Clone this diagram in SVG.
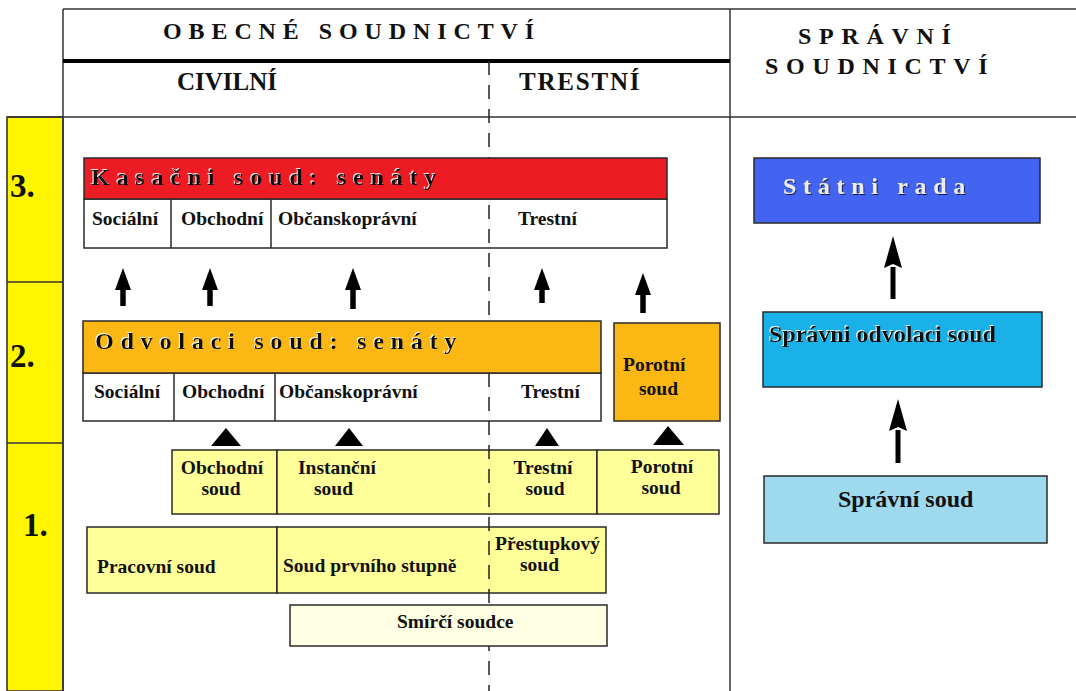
<svg xmlns="http://www.w3.org/2000/svg" width="1076" height="691" viewBox="0 0 1076 691">
<defs>
<style>
.t{font-family:"Liberation Serif","Times New Roman",serif;font-weight:bold;fill:#111}
.lbl{font-size:19.5px}
.hdr{font-size:24px;letter-spacing:6.9px}
.sub{font-size:25px}
.num{font-size:33px}
.big{font-size:24px;letter-spacing:6.8px}
.side{font-size:24px}
.box{stroke:#2a2a2a;stroke-width:1.5}
.frame{stroke:#333;stroke-width:1.5;fill:none}
.arrow{stroke:#000;stroke-width:5.5}
.arrowR{stroke:#000;stroke-width:5}
</style>
<marker id="ah" viewBox="0 0 22 16" refX="1" refY="8" markerWidth="22" markerHeight="16" markerUnits="userSpaceOnUse" orient="auto">
<path d="M0,0 L22,8 L0,16 Z" fill="#000"/>
</marker>
<marker id="ahR" viewBox="0 0 32 18" refX="1" refY="9" markerWidth="32" markerHeight="18" markerUnits="userSpaceOnUse" orient="auto">
<path d="M0,0 L32,9 L0,18 L4,9 Z" fill="#000"/>
</marker>
<filter id="lightShadow" x="-5%" y="-20%" width="110%" height="140%">
<feDropShadow dx="-1" dy="-1" stdDeviation="0.3" flood-color="#ffffff" flood-opacity="0.9"/>
</filter>
<filter id="darkShadow" x="-5%" y="-20%" width="110%" height="140%">
<feDropShadow dx="1" dy="1" stdDeviation="0.4" flood-color="#101040" flood-opacity="0.9"/>
</filter>
</defs>
<rect width="1076" height="691" fill="#ffffff"/>

<g id="frame">
<rect x="7" y="117" width="56" height="574" fill="#fff500" class="box"/>
<line x1="7" y1="282" x2="63" y2="282" class="frame"/>
<line x1="7" y1="443" x2="63" y2="443" class="frame"/>
<line x1="63" y1="9" x2="1076" y2="9" class="frame"/>
<line x1="63" y1="9" x2="63" y2="691" class="frame"/>
<line x1="730" y1="9" x2="730" y2="691" class="frame"/>
<line x1="7" y1="117" x2="1076" y2="117" class="frame"/>
<line x1="63" y1="61" x2="730" y2="61" stroke="#000" stroke-width="4"/>
<text x="163" y="39" class="t hdr">OBECNÉ SOUDNICTVÍ</text>
<text x="798" y="44" class="t hdr" style="letter-spacing:7.7px">SPRÁVNÍ</text>
<text x="765" y="74" class="t hdr" style="letter-spacing:7.7px">SOUDNICTVÍ</text>
<text x="177" y="90" class="t sub">CIVILNÍ</text>
<text x="519" y="90" class="t sub" style="letter-spacing:1.8px">TRESTNÍ</text>
<text x="10" y="197" class="t num">3.</text>
<text x="10" y="367" class="t num">2.</text>
<text x="23" y="536" class="t num">1.</text>
</g>

<g id="level3-senates">
<rect x="84" y="199" width="583" height="49" fill="#ffffff" class="box"/>
<line x1="171" y1="199" x2="171" y2="248" class="box"/>
<line x1="271" y1="199" x2="271" y2="248" class="box"/>
<text x="92" y="225" class="t lbl">Sociální</text>
<text x="181" y="225" class="t lbl">Obchodní</text>
<text x="278" y="225" class="t lbl">Občanskoprávní</text>
<text x="518" y="225" class="t lbl">Trestní</text>
</g>

<g id="level2-senates">
<rect x="83" y="373" width="518" height="48" fill="#ffffff" class="box"/>
<line x1="174" y1="373" x2="174" y2="421" class="box"/>
<line x1="275" y1="373" x2="275" y2="421" class="box"/>
<text x="94" y="398" class="t lbl">Sociální</text>
<text x="182" y="398" class="t lbl">Obchodní</text>
<text x="279" y="398" class="t lbl">Občanskoprávní</text>
<text x="521" y="398" class="t lbl">Trestní</text>
</g>

<g id="obchodni-soud">
<rect x="172" y="450" width="105" height="64" fill="#ffff99" class="box"/>
<text x="222" y="474" class="t lbl" text-anchor="middle">Obchodní</text>
<text x="221" y="495" class="t lbl" text-anchor="middle">soud</text>
</g>
<g id="instancni-soud">
<rect x="277" y="450" width="212" height="64" fill="#ffff99"/>
<path d="M489,450 H277 V514 H489" class="box" fill="none"/>
<text x="298" y="474" class="t lbl">Instanční</text>
<text x="314" y="495" class="t lbl">soud</text>
</g>
<g id="trestni-soud">
<rect x="489" y="450" width="108" height="64" fill="#ffff99"/>
<path d="M489,450 H597 V514 H489" class="box" fill="none"/>
<text x="543" y="474" class="t lbl" text-anchor="middle">Trestní</text>
<text x="545" y="495" class="t lbl" text-anchor="middle">soud</text>
</g>
<g id="porotni-soud-1">
<rect x="597" y="450" width="122" height="64" fill="#ffff99" class="box"/>
<text x="662" y="473" class="t lbl" text-anchor="middle">Porotní</text>
<text x="661" y="494" class="t lbl" text-anchor="middle">soud</text>
</g>
<g id="pracovni-soud">
<rect x="87" y="527" width="190" height="66" fill="#ffff99" class="box"/>
<text x="97" y="573" class="t lbl">Pracovní soud</text>
</g>
<g id="soud-prvniho-stupne">
<rect x="277" y="527" width="212" height="66" fill="#ffff99"/>
<path d="M489,527 H277 V593 H489" class="box" fill="none"/>
<text x="283" y="572" class="t lbl">Soud prvního stupně</text>
</g>
<g id="prestupkovy-soud">
<rect x="489" y="527" width="117" height="66" fill="#ffff99"/>
<path d="M489,527 H606 V593 H489" class="box" fill="none"/>
<text x="495" y="550" class="t lbl">Přestupkový</text>
<text x="520" y="571" class="t lbl">soud</text>
</g>

<line id="divider" x1="489" y1="61" x2="489" y2="691" stroke="#222" stroke-width="1.5" stroke-dasharray="14 10"/>

<g id="kasacni-soud">
<rect x="84" y="158" width="583" height="41" fill="#ed1c24" class="box"/>
<text x="91" y="185" class="t big" fill="#1a1a1a" filter="url(#lightShadow)">Kasačni soud: senáty</text>
</g>
<g id="odvolaci-soud">
<rect x="83" y="321" width="518" height="52" fill="#fbb714" class="box"/>
<text x="95" y="349" class="t big" filter="url(#lightShadow)">Odvolaci soud: senáty</text>
</g>
<g id="porotni-soud-2">
<rect x="614" y="323" width="106" height="98" fill="#fbb714" class="box"/>
<text x="623" y="371" class="t lbl">Porotní</text>
<text x="639" y="395" class="t lbl">soud</text>
</g>
<g id="smirci-soudce">
<rect x="290" y="605" width="317" height="41" fill="#ffffe3" class="box"/>
<text x="397" y="628" class="t lbl">Smírčí soudce</text>
</g>

<g id="statni-rada">
<rect x="754" y="158" width="286" height="65" fill="#4264f0" class="box"/>
<text x="783" y="194" class="t" style="font-size:24px;letter-spacing:6.7px;fill:#ececec" filter="url(#darkShadow)">Státni rada</text>
</g>
<g id="spravni-odvolaci-soud">
<rect x="763" y="312" width="279" height="75" fill="#1ab0e8" class="box"/>
<text x="769" y="342" class="t side" filter="url(#lightShadow)">Správni odvolaci soud</text>
</g>
<g id="spravni-soud">
<rect x="764" y="476" width="283" height="67" fill="#9fd9ee" class="box"/>
<text x="838" y="507" class="t side">Správní soud</text>
</g>

<g id="connectors">
<line x1="123" y1="306" x2="123" y2="289" class="arrow" marker-end="url(#ah)"/>
<line x1="210" y1="306" x2="210" y2="289" class="arrow" marker-end="url(#ah)"/>
<line x1="353" y1="309" x2="353" y2="289" class="arrow" marker-end="url(#ah)"/>
<line x1="542" y1="303" x2="542" y2="289" class="arrow" marker-end="url(#ah)"/>
<line x1="643" y1="313" x2="643" y2="294" class="arrow" marker-end="url(#ah)"/>
<path d="M211,446 L226,428 L241,446 Z" fill="#000"/>
<path d="M335,446 L349,428 L363,446 Z" fill="#000"/>
<path d="M535,446 L547,428 L559,446 Z" fill="#000"/>
<path d="M653,445 L668,426 L684,445 Z" fill="#000"/>
<line x1="893" y1="299" x2="893" y2="267" class="arrowR" marker-end="url(#ahR)"/>
<line x1="898" y1="463" x2="898" y2="430" class="arrowR" marker-end="url(#ahR)"/>
</g>
</svg>
